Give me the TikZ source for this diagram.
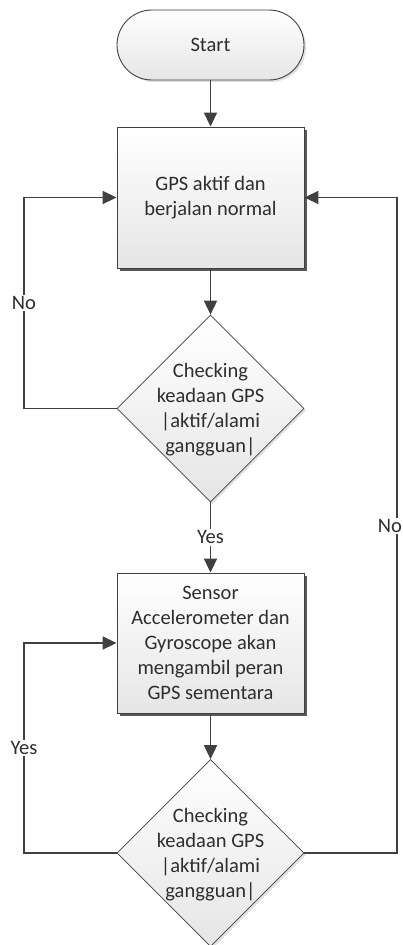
\documentclass[tikz,border=0pt]{standalone}
\usepackage{fontspec}
\setmainfont{Carlito}
\usetikzlibrary{arrows.meta,shapes.geometric,shadows}
\definecolor{lin}{HTML}{404040}
\definecolor{txt}{HTML}{2E2E2E}
\tikzset{
  shp/.style={draw=lin, line width=0.9pt, top color=white, bottom color=black!10, inner sep=0pt, text=txt, align=center, font=\fontsize{20.5}{25}\selectfont},
  procbox/.style={shp, rectangle, minimum width=187pt, minimum height=141pt, drop shadow={shadow xshift=3pt, shadow yshift=-3pt, fill=black!65, opacity=1}},
  termbox/.style={shp, rectangle, rounded corners=35pt, minimum width=187pt, minimum height=70pt, drop shadow={shadow xshift=2pt, shadow yshift=-2pt, fill=black!12, opacity=1}},
  decbox/.style={shp, diamond, aspect=1, minimum width=187pt, minimum height=187pt, line width=0.7pt, drop shadow={shadow xshift=2pt, shadow yshift=-2pt, fill=black!12, opacity=1}},
  dtext/.style={text=txt, align=center, font=\fontsize{20.5}{25}\selectfont, inner sep=0pt},
  conn/.style={draw=lin, line width=1.8pt, -{Triangle[length=14pt,width=13pt]}},
  lbl/.style={fill=white, text=txt, inner sep=1.5pt, font=\fontsize{20.5}{22}\selectfont}
}
\begin{document}
\begin{tikzpicture}[x=1pt,y=-1pt]
\useasboundingbox (0,0) rectangle (403,945);
\node[termbox] (start) at (210.5,45) {Start};
\node[procbox] (b1) at (210.5,197.5) {GPS aktif dan\\berjalan normal};
\node[decbox] (d1) at (210.5,408.5) {};
\node[dtext] (d1t) at (210.5,410) {Checking\\keadaan GPS\\|aktif/alami\\gangguan|};
\node[procbox, minimum height=140pt] (b2) at (210.5,643) {Sensor\\Accelerometer dan\\Gyroscope akan\\mengambil peran\\GPS sementara};
\node[decbox] (d2) at (210.5,853) {};
\node[dtext] (d2t) at (210.5,854.5) {Checking\\keadaan GPS\\|aktif/alami\\gangguan|};
\coordinate (l1) at (24,408.5);
\coordinate (l2) at (24,853);
\coordinate (r2) at (397,853);
\draw[conn] (start) -- (b1);
\draw[conn] (b1) -- (d1);
\draw[conn] (d1.south) -- (b2.north) node[lbl, pos=0.5] (yes1) {Yes};
\draw[conn] (b2) -- (d2);
\draw[conn] (d1.west) -- (l1) |- (b1.west);
\draw[conn] (d2.west) -- (l2) |- (b2.west);
\draw[conn] (d2.east) -- (r2) |- (b1.east);
\node[lbl] (no1) at (24,303) {No};
\node[lbl] (yes2) at (24,748) {Yes};
\node[lbl] (no2) at (390,526) {No};
\end{tikzpicture}
\end{document}
